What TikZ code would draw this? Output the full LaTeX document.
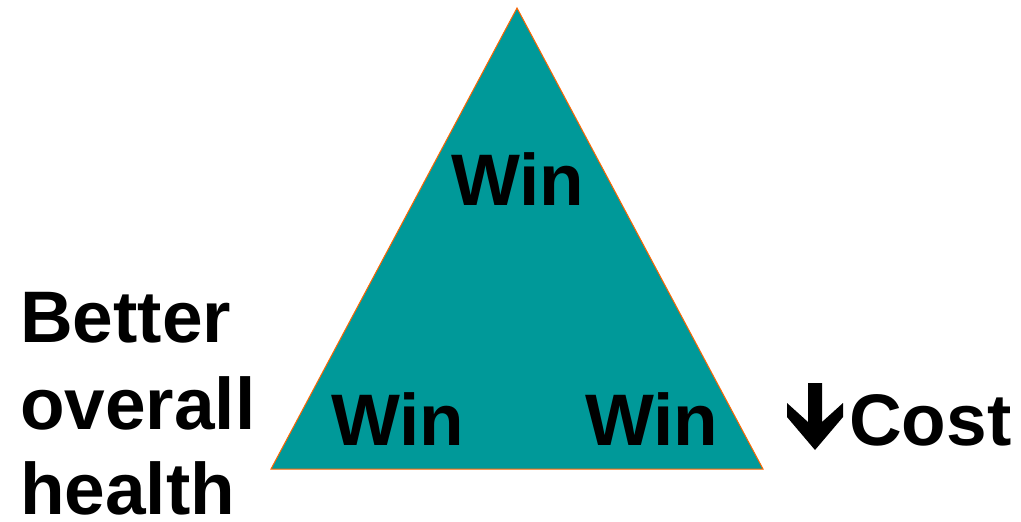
\documentclass[tikz,border=0pt]{standalone}
\usepackage{fontspec}
\setmainfont{Liberation Sans}
\definecolor{trifill}{HTML}{009999}
\definecolor{triedge}{HTML}{FF6600}
\begin{document}
\begin{tikzpicture}[x=1pt,y=-1pt,
  win/.style={font=\fontsize{73}{80}\selectfont\bfseries,inner sep=0pt,anchor=base west},
  side/.style={font=\fontsize{73}{80}\selectfont\bfseries,inner sep=0pt,text depth=0pt,anchor=base west}]
  \useasboundingbox (0,0) rectangle (1021,522);
  \coordinate (apex) at (517,8);
  \coordinate (bl) at (271,469);
  \coordinate (br) at (763,469);
  \filldraw[fill=trifill,draw=triedge,line width=1pt] (apex)--(bl)--(br)--cycle;
  \node[win] (wintop) at (451,205) {Win};
  \node[win] (winleft) at (331,445) {Win};
  \node[win] (winright) at (585,445) {Win};
  \node[side] (better) at (20,342) {Better};
  \node[side] (overall) at (20,429) {overall};
  \node[side] (health) at (20,514) {health};
  % down arrow in front of cost
  \fill (808,383)--(822,383)--(822,422)--(843,403)--(843,417)--(815,450)--(787,417)--(787,403)--(808,422)--cycle;
  \node[win] (cost) at (849,445) {Cost};
\end{tikzpicture}
\end{document}
